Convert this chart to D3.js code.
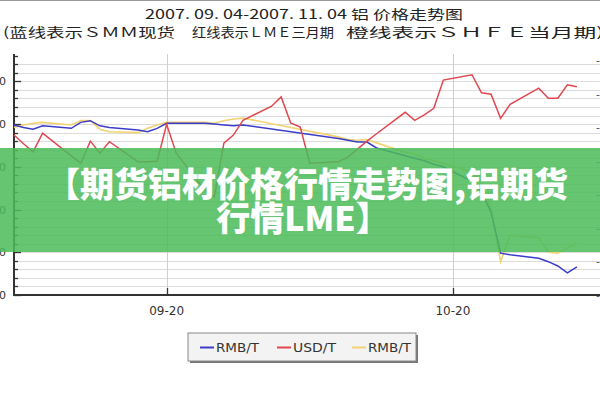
<!DOCTYPE html>
<html><head><meta charset="utf-8">
<script src="https://cdn.jsdelivr.net/npm/d3@7"></script>
<style>html,body{margin:0;padding:0;background:#fff;} svg{display:block;}</style>
</head><body><svg id="c" width="600" height="400"></svg>
<script>
// ---- data ----
const lmeDates = ["2007-09-04","2007-09-05","2007-09-06","2007-09-07","2007-09-10","2007-09-11","2007-09-12","2007-09-13","2007-09-14",
  "2007-09-17","2007-09-18","2007-09-19","2007-09-20","2007-09-21","2007-09-24","2007-09-25","2007-09-26","2007-09-27","2007-09-28",
  "2007-10-01","2007-10-02","2007-10-03","2007-10-04","2007-10-05","2007-10-08","2007-10-09","2007-10-10","2007-10-11","2007-10-12",
  "2007-10-15","2007-10-16","2007-10-17","2007-10-18","2007-10-19","2007-10-22","2007-10-23","2007-10-24","2007-10-25","2007-10-26",
  "2007-10-29","2007-10-30","2007-10-31","2007-11-01","2007-11-02"];
const lmeUsd = [2438,2425,2413,2441,2407,2396,2429,2411,2428,
  2398,2398,2399,2454,2411,2356,2346,2426,2438,2460,
  2481,2495,2456,2450,2396,2398,2405,2417,2429,2440,
  2472,2460,2468,2478,2520,2528,2501,2499,2463,2484,
  2508,2493,2493,2513,2510];
const cnDates = ["2007-09-04","2007-09-05","2007-09-06","2007-09-07","2007-09-10","2007-09-11","2007-09-12","2007-09-13","2007-09-14",
  "2007-09-17","2007-09-18","2007-09-19","2007-09-20","2007-09-21","2007-09-24","2007-09-25","2007-09-26","2007-09-27","2007-09-28",
  "2007-10-08","2007-10-09","2007-10-10","2007-10-11","2007-10-12","2007-10-15","2007-10-16","2007-10-17","2007-10-18","2007-10-19",
  "2007-10-22","2007-10-23","2007-10-24","2007-10-25","2007-10-26","2007-10-29","2007-10-30","2007-10-31","2007-11-01","2007-11-02"];
const smmRmb = [19990,19960,19940,19980,19950,20020,20040,19980,19960,
  19930,19910,19950,20010,20010,20010,20000,19990,19980,19990,
  19830,19810,19790,19790,19720,19630,19600,19570,19530,19500,
  19330,19200,18970,18490,18470,18430,18390,18340,18260,18330];
const shfeRmb = [19960,19990,20010,20020,19990,20040,20040,19940,19910,
  19900,19950,19990,20020,20020,20020,20010,20040,20060,20070,
  19850,19820,19810,19820,19780,19670,19650,19600,19570,19540,
  19440,19290,19020,18390,18700,18670,18500,18490,18550,18610];
const xTickDates = ["2007-09-20","2007-10-20"];
const xTickLabels = ["09-20","10-20"];
const leftTicks = [18000,18500,19000,19500,20000,20500];
const rightTicks = [2200,2250,2300,2350,2400,2450,2500,2550];
const legendLabels = ["RMB/T","USD/T","RMB/T"];
const titleLine1 = "2007. 09. 04-2007. 11. 04 铝 价格走势图";
const titleLine2 = ["(蓝线表示ＳＭＭ现货","红线表示ＬＭＥ三月期","橙线表示ＳＨＦＥ当月期)"];
const bannerLines = ["【期货铝材价格行情走势图,铝期货","行情LME】"];

// ---- drawing ----
const svg = d3.select("#c");
const parse = d3.utcParse("%Y-%m-%d");
const x = d3.scaleUtc().domain([parse("2007-09-04"), parse("2007-11-04")]).range([14, 596]);
const yL = d3.scaleLinear().domain([18000, 20820]).range([295, 54]);
const yR = d3.scaleLinear().domain([2200, 2559]).range([294.5, 54]);

svg.append("rect").attr("width",600).attr("height",400).attr("fill","#fff");
svg.append("line").attr("x1",0).attr("x2",600).attr("y1",0.5).attr("y2",0.5).attr("stroke","#999");

// titles
svg.append("text").attr("x",145).attr("y",19).attr("textLength",318).attr("lengthAdjust","spacingAndGlyphs")
  .attr("font-family","Noto Sans CJK SC").attr("font-size",13).attr("fill","#222").text(titleLine1);
const t2x = [3,192,346], t2w=[172,142,258];
titleLine2.forEach((s,i)=>svg.append("text").attr("x",t2x[i]).attr("y",37).attr("textLength",t2w[i]).attr("lengthAdjust","spacingAndGlyphs")
  .attr("font-family","Noto Sans CJK SC").attr("font-size",13).attr("fill","#222").text(s));

// gridlines
const gridVals = d3.range(18100, 20701, 100);
svg.append("g").selectAll("line").data(gridVals).join("line")
  .attr("x1",15).attr("x2",600).attr("y1",d=>Math.round(yL(d))+0.5).attr("y2",d=>Math.round(yL(d))+0.5)
  .attr("stroke","#dcdcdc").attr("stroke-width",1);
svg.append("g").selectAll("line").data(xTickDates).join("line")
  .attr("x1",d=>Math.round(x(parse(d)))+0.5).attr("x2",d=>Math.round(x(parse(d)))+0.5)
  .attr("y1",54).attr("y2",295).attr("stroke","#cfcfcf");

// left axis ticks
const minor = d3.range(18000, 20801, 100);
svg.append("g").selectAll("line").data(minor).join("line")
  .attr("x1",14).attr("x2",d=>d%500===0?21:18).attr("y1",d=>Math.round(yL(d))+0.5).attr("y2",d=>Math.round(yL(d))+0.5)
  .attr("stroke","#333").attr("stroke-width",1.3);
svg.append("g").selectAll("text").data(leftTicks).join("text")
  .attr("x",6).attr("y",d=>yL(d)+4).attr("text-anchor","end")
  .attr("font-family","DejaVu Sans").attr("font-size",11).attr("fill","#333").text(d=>d);
// right axis labels (cut by frame)
svg.append("g").selectAll("text").data(rightTicks).join("text")
  .attr("x",596).attr("y",d=>yR(d)+4)
  .attr("font-family","DejaVu Sans").attr("font-size",11).attr("fill","#555").text(d=>"-"+d);

// axes lines
svg.append("line").attr("x1",14).attr("x2",14).attr("y1",54).attr("y2",296).attr("stroke","#333").attr("stroke-width",2);
svg.append("line").attr("x1",13).attr("x2",600).attr("y1",295).attr("y2",295).attr("stroke","#333").attr("stroke-width",2);
svg.append("g").selectAll("line").data(xTickDates).join("line")
  .attr("x1",d=>Math.round(x(parse(d)))+0.5).attr("x2",d=>Math.round(x(parse(d)))+0.5)
  .attr("y1",288).attr("y2",295).attr("stroke","#333").attr("stroke-width",1.3);
svg.append("g").selectAll("text").data(xTickDates).join("text")
  .attr("x",d=>x(parse(d))).attr("y",315).attr("text-anchor","middle")
  .attr("font-family","DejaVu Sans").attr("font-size",12).attr("fill","#333").text((d,i)=>xTickLabels[i]);

// series
const colors = {smm:"#3c3cc8", lme:"#e0474f", shfe:"#f2d272"};
const lineL = d3.line().x(d=>x(d[0])).y(d=>yL(d[1]));
const lineR = d3.line().x(d=>x(d[0])).y(d=>yR(d[1]));
const shfe = cnDates.map((d,i)=>[parse(d), shfeRmb[i]]);
const smm = cnDates.map((d,i)=>[parse(d), smmRmb[i]]);
const lme = lmeDates.map((d,i)=>[parse(d), lmeUsd[i]]);
svg.append("path").datum(shfe).attr("d",lineL).attr("fill","none").attr("stroke",colors.shfe).attr("stroke-width",1.6);
svg.append("path").datum(smm).attr("d",lineL).attr("fill","none").attr("stroke",colors.smm).attr("stroke-width",1.5);
svg.append("path").datum(lme).attr("d",lineR).attr("fill","none").attr("stroke",colors.lme).attr("stroke-width",1.5);

// legend
const lg = svg.append("g");
lg.append("rect").attr("x",190).attr("y",335).attr("width",228).attr("height",28).attr("fill","#777");
lg.append("rect").attr("x",188).attr("y",333).attr("width",228).attr("height",28).attr("fill","#f3f3f3").attr("stroke","#888");
const lgx = [200, 277, 352];
const lgc = [colors.smm, colors.lme, colors.shfe];
legendLabels.forEach((s,i)=>{
  lg.append("line").attr("x1",lgx[i]).attr("x2",lgx[i]+14).attr("y1",347.5).attr("y2",347.5).attr("stroke",lgc[i]).attr("stroke-width",2);
  lg.append("text").attr("x",lgx[i]+16).attr("y",352).attr("textLength",43).attr("lengthAdjust","spacingAndGlyphs")
    .attr("font-family","DejaVu Sans").attr("font-size",12).attr("fill","#333").text(s);
});

// banner overlay
svg.append("rect").attr("x",0).attr("y",148).attr("width",600).attr("height",104).attr("fill","#4cbb5a").attr("opacity",0.86);
svg.append("text").attr("x",307).attr("y",197).attr("text-anchor","middle")
  .attr("font-family","Noto Sans CJK SC").attr("font-weight",900).attr("font-size",34).attr("fill","#fff").text(bannerLines[0]);
svg.append("text").attr("x",303).attr("y",231).attr("text-anchor","middle")
  .attr("font-family","Noto Sans CJK SC").attr("font-weight",900).attr("font-size",34).attr("fill","#fff").text(bannerLines[1]);
</script></body></html>
